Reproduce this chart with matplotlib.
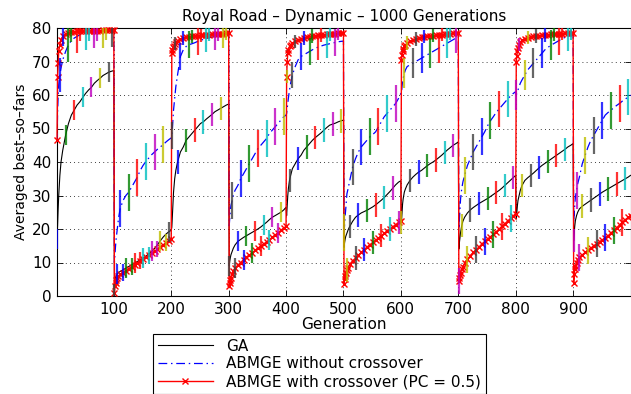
import numpy as np
import matplotlib.pyplot as plt

OFFS = [0, 1, 2, 3, 5, 7, 10, 15, 20, 25, 30, 35, 40, 45, 50, 55, 60, 65, 70, 75, 80, 85, 90, 95, 99]
PERIOD = 100
N_PERIODS = 10

# ---------------- GA ----------------
ga = [
    [17, 21, 26, 30, 36, 40, 43.5, 48, 51.5, 54, 55.5, 57, 58, 59.3, 60.5, 61.5, 62.3, 63.5, 64.3, 65, 65.8, 66.3, 66.8, 67.1, 67.3],
    [4.5, 5, 5.5, 6, 6.5, 7, 7.3, 7.8, 8.3, 8.8, 9.3, 9.8, 10.3, 10.8, 11.3, 11.9, 12.6, 13.3, 14.2, 15.3, 16.5, 17.6, 18.5, 19.2, 19.6],
    [20.5, 24, 28, 31, 35, 37.5, 40, 43, 44.5, 46.5, 47.5, 48.5, 49.5, 50.5, 51.5, 52, 52.8, 53.5, 54.2, 55, 55.5, 56, 56.5, 57, 57.3],
    [9, 10.5, 11.5, 12.3, 13.3, 14.2, 15.2, 16.3, 16.9, 17.5, 18, 18.5, 19, 19.5, 20, 20.6, 21.3, 22, 22.8, 23.5, 24, 24.5, 25, 25.7, 26.5],
    [24, 27, 30, 32, 34.5, 36, 38, 39.5, 41, 42, 43.5, 44.5, 45.5, 46.5, 47.3, 48, 48.7, 49.5, 50.3, 51, 51.3, 51.6, 52, 52.3, 52.5],
    [14.5, 16, 17, 17.8, 18.8, 19.7, 20.8, 22.3, 23.5, 24.2, 24.8, 25.2, 25.6, 26.1, 26.6, 27.2, 27.9, 28.6, 29.4, 30.3, 31.2, 32.2, 33.2, 34, 34.4],
    [22, 25, 27.5, 29, 31, 32, 33.2, 34.5, 35.5, 36.3, 37, 37.5, 38.2, 38.9, 39.5, 40, 40.6, 41.3, 42, 42.8, 43.6, 44.3, 45, 45.5, 46],
    [14, 16, 17.5, 19, 21, 22.3, 23.5, 24.8, 25.7, 26.4, 27, 27.6, 28.1, 28.6, 29.1, 29.7, 30.3, 30.9, 31.5, 32.2, 33, 33.8, 34.6, 35.4, 36],
    [23, 25, 27, 28.5, 30, 31.5, 33, 34.5, 35.3, 36, 36.7, 37.5, 38.3, 39, 39.6, 40.2, 40.8, 41.4, 42, 42.6, 43.2, 43.8, 44.5, 45, 45.5],
    [16.5, 19, 21, 22.5, 24, 25, 26, 26.8, 27.4, 28, 28.6, 29.2, 29.8, 30.4, 31, 31.5, 32, 32.5, 33, 33.5, 34, 34.5, 35, 35.5, 36],
]

# ---------------- ABMGE without crossover ----------------
abm = [
    [46, 55, 60, 63, 66, 68, 70.5, 73, 75, 76.2, 77, 77.5, 78, 78.3, 78.5, 78.7, 78.8, 79, 79, 79.1, 79.1, 79.2, 79.2, 79.2, 79.2],
    [10, 12.5, 15, 17, 20, 23, 26, 28.5, 30, 31, 32.5, 34, 35.5, 37.5, 39, 40.2, 41.2, 42.2, 43, 43.8, 44.5, 45.2, 46, 46.7, 47.2],
    [48, 50, 53, 55.5, 59, 62.5, 66, 71.5, 73.5, 74.5, 75, 75.3, 75.6, 76, 76.3, 76.6, 76.9, 77.1, 77.3, 77.5, 77.7, 77.9, 78, 78.1, 78.2],
    [21, 23.5, 25.5, 27, 28.5, 30, 31.5, 33, 35, 36.5, 38, 39.5, 41, 42.5, 44, 45, 46, 47, 48.5, 49.5, 50.5, 51.5, 52.5, 53.5, 54],
    [54.5, 56, 57.5, 59, 61.5, 63.5, 66, 68.5, 70.5, 71.5, 72, 72.5, 73, 73.5, 74, 74.3, 74.6, 74.9, 75.1, 75.3, 75.5, 75.7, 75.9, 76, 76.1],
    [19, 21.5, 24, 26, 30.5, 32, 34.5, 38.5, 41, 43, 44.5, 45.5, 46.5, 47.5, 48.2, 49, 50.5, 52, 53.5, 54.5, 55.5, 56.5, 57.5, 59, 60.5],
    [60.5, 62.5, 64, 65, 66.5, 67.5, 68.5, 69, 69.5, 70, 70.5, 71, 71.5, 72, 72.5, 73, 73.5, 74, 74.5, 75, 75.5, 76, 76.5, 77, 77.5],
    [20, 23, 26, 29, 32, 34, 36, 39, 41, 43, 44.5, 46, 47.5, 49, 50.8, 52.3, 53.5, 54.8, 55.8, 56.8, 57.8, 58.8, 59.7, 60.5, 61],
    [60, 60.5, 61, 61.5, 62.5, 63.5, 64.5, 66, 67.5, 68.5, 69.5, 70.5, 71.5, 72.5, 73.5, 74.2, 74.8, 75.3, 75.8, 76.3, 76.8, 77.2, 77.5, 77.8, 78],
    [22, 25, 27.5, 29.5, 31.5, 33.5, 35.5, 39.5, 42, 44.5, 46.5, 48, 49.5, 51, 52.5, 54, 54.8, 55.5, 56.2, 56.9, 57.5, 58.2, 58.8, 59.4, 60],
]

# ---------------- ABMGE with crossover (PC = 0.5) ----------------
abx = [
    [46.5, 65.5, 69.5, 73, 75, 76.5, 77.5, 78.3, 78.6, 78.8, 78.9, 79, 79, 79.1, 79.1, 79.1, 79.2, 79.2, 79.2, 79.2, 79.3, 79.3, 79.3, 79.3, 79.3],
    [1, 3, 4, 4.8, 5.5, 6, 6.5, 7, 7.6, 8.2, 8.8, 9.4, 10, 10.5, 11, 11.6, 12.2, 12.8, 13.4, 14, 14.7, 15.3, 15.9, 16.5, 17],
    [72.5, 73.5, 74.2, 74.7, 75.3, 75.8, 76.2, 76.7, 77, 77.2, 77.4, 77.5, 77.6, 77.7, 77.8, 77.9, 78, 78, 78.1, 78.2, 78.2, 78.3, 78.3, 78.4, 78.4],
    [3, 4, 4.8, 5.5, 6.5, 7.5, 8.3, 9.2, 10, 10.8, 11.5, 12.2, 12.9, 13.6, 14.3, 14.9, 15.5, 16.2, 16.8, 17.5, 18.2, 18.9, 19.6, 20.3, 20.8],
    [65.5, 70, 72.5, 73.5, 74.5, 75, 75.5, 76, 76.4, 76.7, 77, 77.2, 77.4, 77.6, 77.7, 77.8, 77.9, 78, 78.1, 78.2, 78.3, 78.3, 78.4, 78.4, 78.5],
    [3.5, 5, 6, 6.8, 7.8, 8.5, 9.5, 10.5, 11.3, 12.2, 13, 13.8, 14.6, 15.3, 16, 16.7, 17.3, 18, 18.7, 19.4, 20, 20.7, 21.3, 22, 22.5],
    [70.5, 72, 73, 73.8, 74.5, 75, 75.5, 76, 76.4, 76.7, 77, 77.2, 77.4, 77.5, 77.6, 77.7, 77.8, 77.9, 78, 78.1, 78.2, 78.3, 78.4, 78.5, 78.5],
    [4.5, 5.5, 6.3, 7, 8, 8.8, 9.8, 11, 12, 13, 13.8, 14.6, 15.5, 16.3, 17, 17.7, 18.4, 19.2, 20, 20.8, 21.6, 22.4, 23.2, 24, 24.6],
    [70, 71.5, 73, 74, 75, 75.8, 76.3, 76.8, 77.1, 77.3, 77.5, 77.6, 77.7, 77.8, 77.9, 78, 78.1, 78.2, 78.2, 78.3, 78.3, 78.4, 78.4, 78.5, 78.5],
    [4, 6.5, 8, 9, 10, 10.8, 11.5, 12.3, 13, 13.7, 14.3, 15, 15.6, 16.2, 16.8, 17.4, 18, 18.8, 19.6, 20.4, 21.2, 22, 22.8, 23.5, 24],
]

# half length of the error bars, one value per period
ga_err = [3, 3, 3.5, 3, 3.5, 3.5, 3.5, 3.5, 3.5, 3.5]
abm_err = [5, 5.5, 4, 5.5, 4, 5.5, 4.5, 5.5, 4.5, 5.5]
abx_err = [3, 2.5, 2, 3, 2, 3.5, 2, 4, 2, 4]

# error bars every 15 generations, series shifted a little
BAR_STEP = 15
BAR_SHIFT = {"ga": 0, "abm": 5, "abx": 10}

# MATLAB colour order
BAR_COLORS = [(0, 0, 1), (0, 0.5, 0), (1, 0, 0), (0, 0.75, 0.75),
              (0.75, 0, 0.75), (0.75, 0.75, 0), (0.25, 0.25, 0.25)]


def flat_series(vals):
    x, y = [], []
    for p in range(N_PERIODS):
        for o, v in zip(OFFS, vals[p]):
            x.append(PERIOD * p + o + 1)
            y.append(v)
    return np.array(x), np.array(y)


def add_bars(ax, vals, errs, shift):
    k = 0
    while BAR_STEP * k + shift < PERIOD * N_PERIODS:
        g0 = BAR_STEP * k + shift
        p, o = divmod(g0, PERIOD)
        y = vals[p][OFFS.index(o)]
        ax.errorbar([g0 + 1], [y], yerr=[errs[p]], fmt="none",
                    ecolor=BAR_COLORS[k % 7], elinewidth=1.6, capsize=0,
                    alpha=0.8, zorder=5)
        k += 1


plt.rcParams["font.family"] = "DejaVu Sans"
plt.rcParams["font.size"] = 11

fig = plt.figure(figsize=(6.31, 3.94), dpi=100)
ax = fig.add_axes([57 / 631, 1 - 296 / 394, 573.5 / 631, 268 / 394])

x_ga, y_ga = flat_series(ga)
x_abm, y_abm = flat_series(abm)
x_abx, y_abx = flat_series(abx)

l1, = ax.plot(x_ga, y_ga, "-", color="k", lw=0.8, label="GA", zorder=2)
l2, = ax.plot(x_abm, y_abm, color="b", lw=0.9, ls=(0, (7, 3, 1.2, 3)),
              label="ABMGE without crossover", zorder=3)
l3, = ax.plot(x_abx, y_abx, "-", color="r", lw=1.0, marker="x", ms=5, mew=1.0,
              label="ABMGE with crossover (PC = 0.5)", zorder=4, clip_on=False)

add_bars(ax, ga, ga_err, BAR_SHIFT["ga"])
add_bars(ax, abm, abm_err, BAR_SHIFT["abm"])
add_bars(ax, abx, abx_err, BAR_SHIFT["abx"])

ax.set_xlim(1, 1000)
ax.set_ylim(0, 80)
ax.set_xticks(np.arange(100, 1000, 100))
ax.set_yticks(np.arange(0, 81, 10))
ax.tick_params(direction="in", top=True, right=True, length=4, width=0.6,
               labelsize=11, pad=4)
ax.grid(True, linestyle=(0, (1, 4)), color="k", lw=0.6)
for s in ax.spines.values():
    s.set_linewidth(0.8)

ax.set_title("Royal Road – Dynamic – 1000 Generations", fontsize=11, pad=5)
ax.set_xlabel("Generation", fontsize=11, labelpad=0)
ax.set_ylabel("Averaged best–so–fars", fontsize=10, labelpad=3)

leg = fig.legend(handles=[l1, l2, l3], loc="upper left",
                 bbox_to_anchor=(153 / 631, 1 - 334 / 394), borderaxespad=0,
                 fancybox=False, framealpha=1, edgecolor="k", fontsize=11,
                 handlelength=3.6, handletextpad=0.9, labelspacing=0.18,
                 borderpad=0.3)
leg.get_frame().set_linewidth(0.8)

fig.savefig("out.png", dpi=100)
